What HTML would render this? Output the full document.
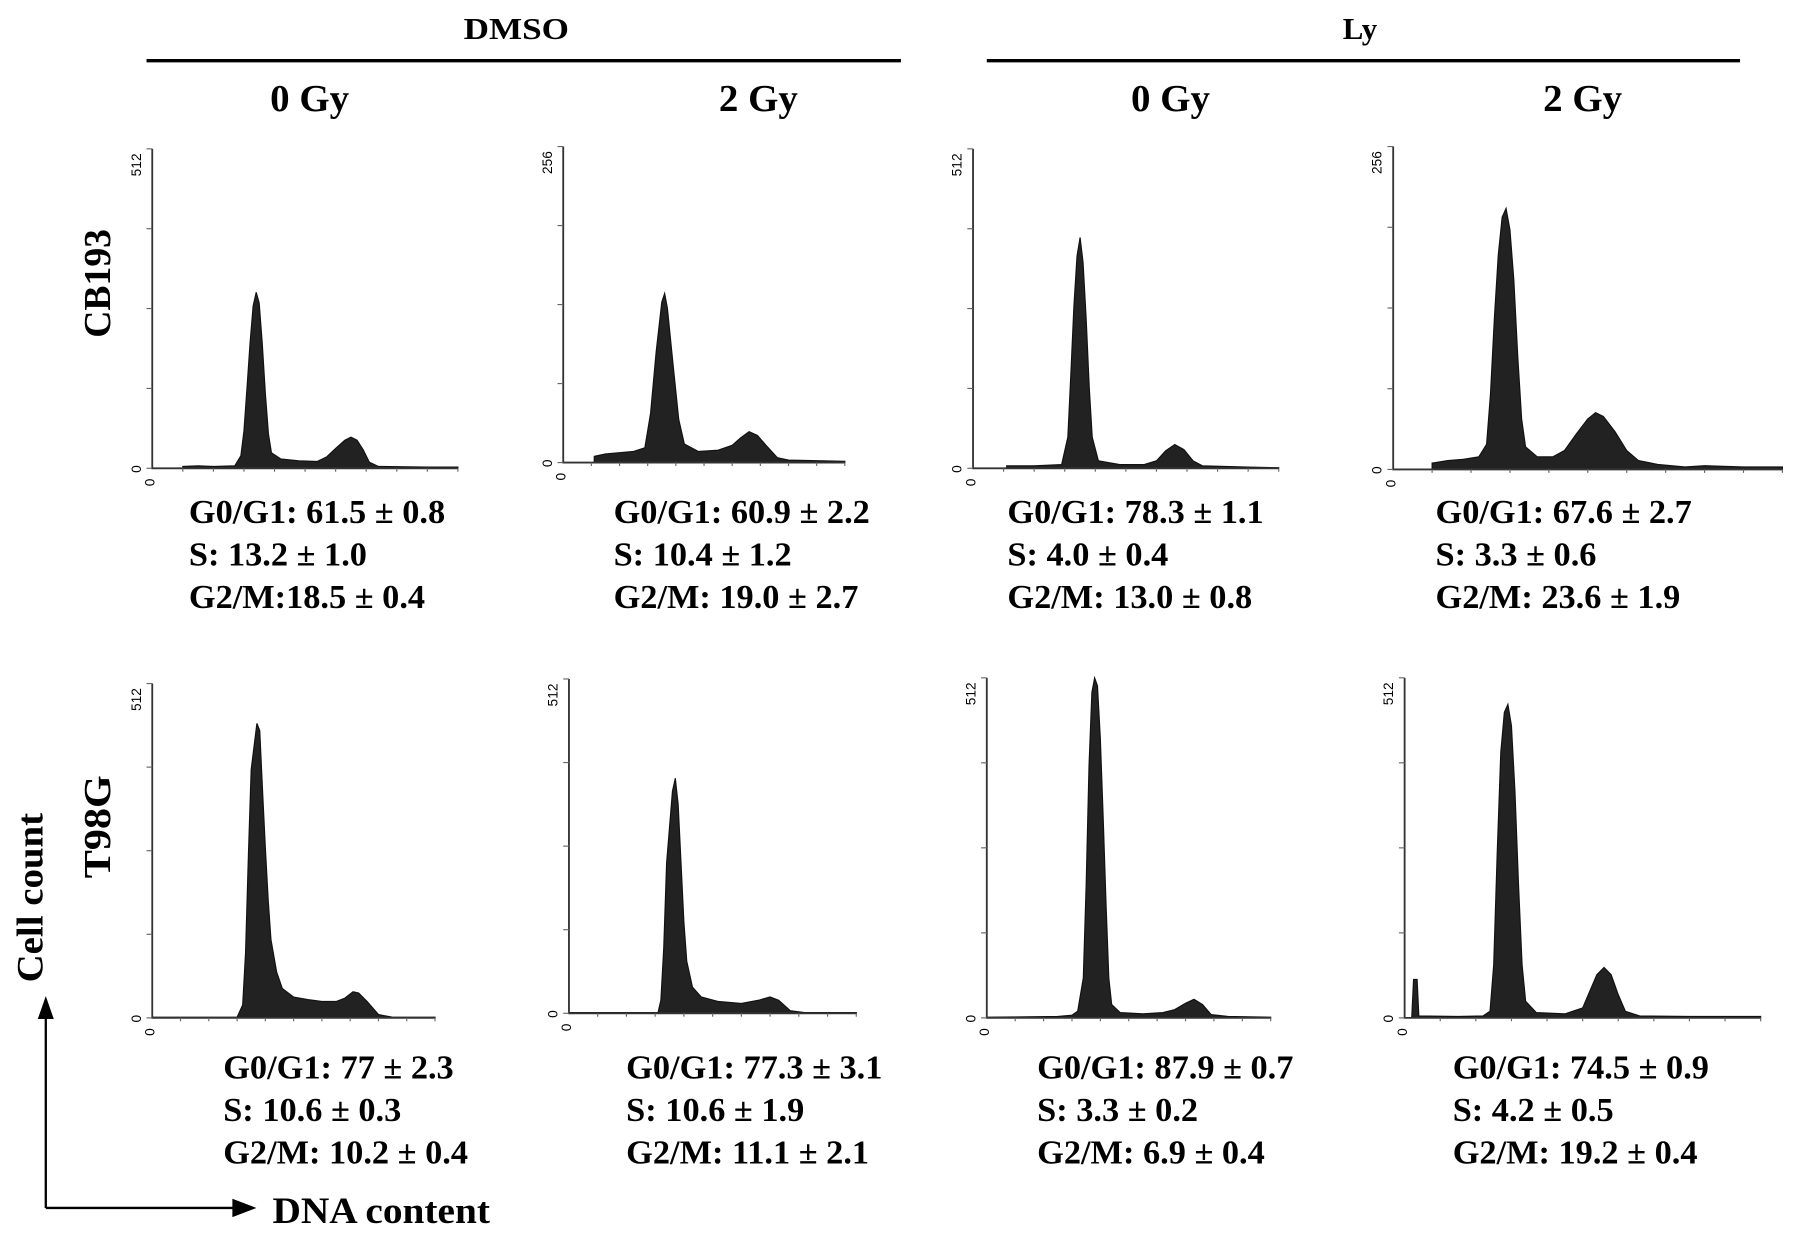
<!DOCTYPE html>
<html><head><meta charset="utf-8"><style>
html,body{margin:0;padding:0;background:#fff;}
svg{display:block;}
text{font-family:"Liberation Serif",serif;font-weight:bold;fill:#000;}
</style></head><body>
<svg id="fig" width="1795" height="1240" viewBox="0 0 1568 1083" preserveAspectRatio="none" xmlns="http://www.w3.org/2000/svg">
<text x="405" y="34" font-size="27" textLength="92" lengthAdjust="spacingAndGlyphs">DMSO</text>
<line x1="128" y1="53" x2="787" y2="53" stroke="#000" stroke-width="3"/>
<text x="1173" y="34" font-size="27" textLength="30" lengthAdjust="spacingAndGlyphs">Ly</text>
<line x1="862" y1="53" x2="1520" y2="53" stroke="#000" stroke-width="3"/>
<text x="236" y="97" font-size="33" textLength="69" lengthAdjust="spacingAndGlyphs">0 Gy</text>
<text x="628" y="97" font-size="33" textLength="69" lengthAdjust="spacingAndGlyphs">2 Gy</text>
<text x="988" y="97" font-size="33" textLength="69" lengthAdjust="spacingAndGlyphs">0 Gy</text>
<text x="1348" y="97" font-size="33" textLength="69" lengthAdjust="spacingAndGlyphs">2 Gy</text>
<text transform="translate(96,295) rotate(-90)" font-size="33" textLength="95" lengthAdjust="spacingAndGlyphs">CB193</text>
<text transform="translate(96,767) rotate(-90)" font-size="33" textLength="90" lengthAdjust="spacingAndGlyphs">T98G</text>
<text transform="translate(37,858) rotate(-90)" font-size="32" textLength="148" lengthAdjust="spacingAndGlyphs">Cell count</text>
<g>
<line x1="40" y1="1055" x2="40" y2="888" stroke="#000" stroke-width="2"/>
<polygon points="40,870 33,890 47,890" fill="#000"/>
<line x1="40" y1="1055" x2="205" y2="1055" stroke="#000" stroke-width="2"/>
<polygon points="224,1055 203,1047 203,1063" fill="#000"/>
</g>
<text x="238" y="1068" font-size="32" textLength="190" lengthAdjust="spacingAndGlyphs">DNA content</text>
<g id="panels"></g>
</svg>
<script>
// Panel definitions (y-axis max counts)
const yMax = [512, 256, 512, 256, 512, 512, 512, 512];
const panelNames = ["cb193-dmso-0gy","cb193-dmso-2gy","cb193-ly-0gy","cb193-ly-2gy","t98g-dmso-0gy","t98g-dmso-2gy","t98g-ly-0gy","t98g-ly-2gy"];
// histogram samples: channel (% of x-range) and counts
const chan1 = [10,15,20,27,29,30,31,32,33,34,35,36,37,38,39,42,48,54,57,60,63,65,67,69,71,74,90,100];
const cnt1  = [3,4,3,4,20,60,130,200,260,282,265,200,120,55,25,15,12,11,18,32,45,50,45,30,10,3,2,2];
const chan2 = [11,15,20,25,29,31,33,35,36,37,39,41,43,48,55,60,63,66,69,72,76,80,100];
const cnt2  = [5,7,8,9,12,40,90,130,137,125,80,35,15,9,10,14,20,25,22,14,4,2,1];
const chan3 = [11,20,29,31,32,33,34,35,36,37,38,39,41,48,56,60,63,66,69,72,75,90,100];
const cnt3  = [4,4,6,50,150,260,340,370,330,240,130,50,12,6,6,12,28,38,30,12,4,2,1];
const chan4 = [10,14,18,22,24,25,26,27,28,29,30,31,32,33,34,37,41,44,47,50,52,54,57,60,63,68,75,80,90,100];
const cnt4  = [5,7,8,10,20,60,120,170,200,207,190,150,90,40,18,10,10,15,28,40,45,42,30,15,7,4,2,3,2,2];
const chan5 = [0,30,32,33,34,35,37,38,39,40,41,42,44,46,50,55,60,65,68,71,73,76,80,85,100];
const cnt5  = [1,1,20,100,250,380,451,440,350,260,180,120,70,45,32,28,25,25,30,40,38,25,5,1,1];
const chan6 = [0,31,32,33,34,36,37,38,39,40,41,43,46,52,60,66,70,73,77,82,100];
const cnt6  = [1,1,20,100,230,340,360,320,230,140,80,40,25,18,15,20,25,20,4,1,1];
const chan7 = [0,25,30,32,34,35,36,37,38,39,40,41,42,43,44,47,55,62,66,70,73,76,79,85,100];
const cnt7  = [1,2,4,10,60,200,380,490,512,500,420,300,170,60,20,8,6,8,12,22,28,20,5,2,1];
const chan8 = [0,2,2.5,3.5,4,15,22,24,25,26,27,28,29,30,31,32,33,34,37,45,50,52,54,56,58,60,62,66,80,100];
const cnt8  = [0,0,58,58,3,2,3,10,80,250,400,460,472,440,340,200,80,25,8,6,15,40,65,76,65,35,10,3,2,2];
const chans = [chan1,chan2,chan3,chan4,chan5,chan6,chan7,chan8];
const counts = [cnt1,cnt2,cnt3,cnt4,cnt5,cnt6,cnt7,cnt8];
const statsG1 = ["G0/G1: 61.5 ± 0.8","G0/G1: 60.9 ± 2.2","G0/G1: 78.3 ± 1.1","G0/G1: 67.6 ± 2.7","G0/G1: 77 ± 2.3","G0/G1: 77.3 ± 3.1","G0/G1: 87.9 ± 0.7","G0/G1: 74.5 ± 0.9"];
const statsS = ["S: 13.2 ± 1.0","S: 10.4 ± 1.2","S: 4.0 ± 0.4","S: 3.3 ± 0.6","S: 10.6 ± 0.3","S: 10.6 ± 1.9","S: 3.3 ± 0.2","S: 4.2 ± 0.5"];
const statsG2 = ["G2/M:18.5 ± 0.4","G2/M: 19.0 ± 2.7","G2/M: 13.0 ± 0.8","G2/M: 23.6 ± 1.9","G2/M: 10.2 ± 0.4","G2/M: 11.1 ± 2.1","G2/M: 6.9 ± 0.4","G2/M: 19.2 ± 0.4"];

const frames = [
 {x0:133,x1:400,top:130,base:409,tx:165,ty:447},
 {x0:492,x1:738,top:128,base:404,tx:536,ty:447},
 {x0:850,x1:1117,top:130,base:409,tx:880,ty:447},
 {x0:1217,x1:1557,top:128,base:410,tx:1254,ty:447},
 {x0:133,x1:380,top:597,base:889,tx:195,ty:932},
 {x0:497,x1:748,top:593,base:885,tx:547,ty:932},
 {x0:862,x1:1110,top:592,base:889,tx:906,ty:932},
 {x0:1227,x1:1538,top:592,base:889,tx:1269,ty:932}
];
const NS="http://www.w3.org/2000/svg";
const root=document.getElementById('panels');
function mk(tag,attrs,parent){const e=document.createElementNS(NS,tag);for(const k in attrs)e.setAttribute(k,attrs[k]);parent.appendChild(e);return e;}
frames.forEach((f,i)=>{
  const g=mk('g',{},root);
  
  
  const xs=c=>f.x0+(c/100)*(f.x1-f.x0);
  const ys=v=>f.base-(v/yMax[i])*(f.base-f.top);
  let d='M'+xs(chans[i][0])+','+f.base;
  chans[i].forEach((c,j)=>{d+=' L'+xs(c).toFixed(1)+','+ys(counts[i][j]).toFixed(1);});
  d+=' L'+xs(chans[i][chans[i].length-1])+','+f.base+' Z';
  const p=mk('path',{d:d,fill:'#222',stroke:'#111','stroke-width':1},g);
  
  
  const ax=mk('path',{d:`M${f.x0},${f.top} L${f.x0},${f.base} L${f.x1},${f.base}`,fill:'none',stroke:'#333','stroke-width':1.6},g);
  
  
  for(let k=0;k<=4;k++){const yy=f.top+k*(f.base-f.top)/4;mk('line',{x1:f.x0-5,y1:yy,x2:f.x0,y2:yy,stroke:'#666','stroke-width':1},g);}
  for(let k=1;k<=10;k++){const xx=f.x0+k*(f.x1-f.x0)/10;mk('line',{x1:xx,y1:f.base,x2:xx,y2:f.base+3,stroke:'#666','stroke-width':1},g);}
  const t1=mk('text',{transform:`translate(${f.x0-10},${f.top+4}) rotate(-90)`,'font-size':12,'text-anchor':'end',style:'font-family:Liberation Sans,sans-serif;font-weight:normal'},g);
  t1.textContent=String(yMax[i]);
  
  
  const t0=mk('text',{transform:`translate(${f.x0-10},${f.base+4}) rotate(-90)`,'font-size':12,style:'font-family:Liberation Sans,sans-serif;font-weight:normal'},g);
  t0.textContent='0';
  
  
  const tx0=mk('text',{transform:`translate(${f.x0+2},${f.base+9}) rotate(-90)`,'font-size':12,'text-anchor':'end',style:'font-family:Liberation Sans,sans-serif;font-weight:normal'},g);
  tx0.textContent='0';
  
  
  [statsG1[i],statsS[i],statsG2[i]].forEach((s,k)=>{
    const t=mk('text',{x:f.tx,y:f.ty+k*37+10,'font-size':30},g);
    t.textContent=s;
    
    
  });
});
</script>
</body></html>
